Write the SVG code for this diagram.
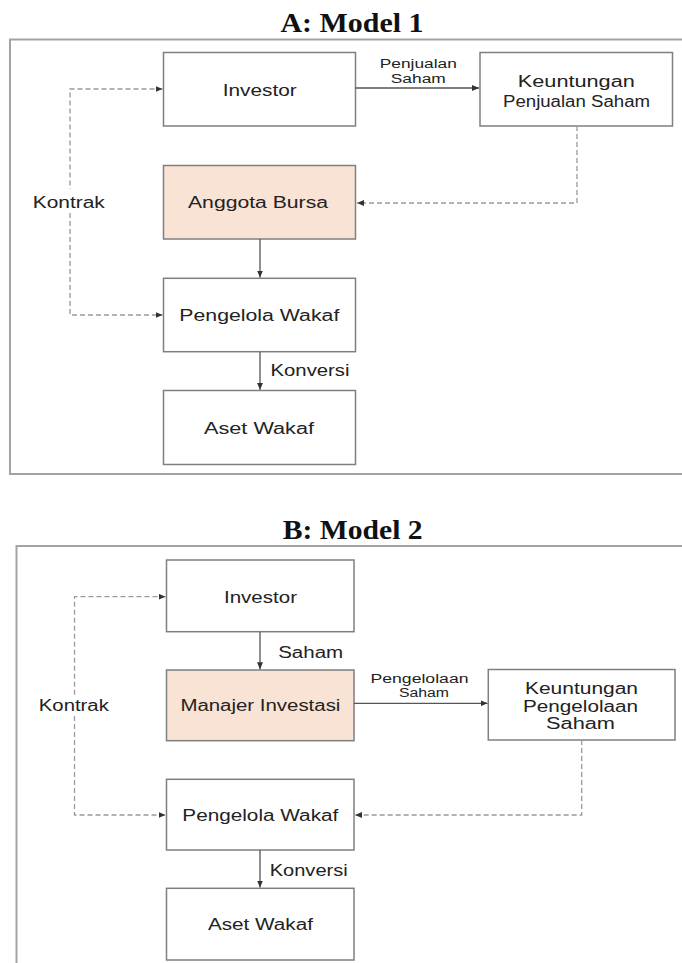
<svg xmlns="http://www.w3.org/2000/svg" width="682" height="963" viewBox="0 0 682 963">
  <style>
    .frame { fill: none; stroke: #a3a3a3; stroke-width: 2; }
    .title { font-family: "Liberation Serif", "DejaVu Serif", serif; font-weight: bold; font-size: 28px; fill: #111; text-anchor: middle; }
    .box { fill: #ffffff; stroke: #7f7f7f; stroke-width: 1.5; }
    .hl { fill: #f9e3d5; }
    .t { font-family: "Liberation Sans", Arial, sans-serif; font-size: 16px; fill: #222; text-anchor: middle; }
    .s { font-family: "Liberation Sans", Arial, sans-serif; font-size: 12.5px; fill: #222; text-anchor: middle; }
    .solid { fill: none; stroke: #555; stroke-width: 1.3; }
    .dash { fill: none; stroke: #9a9a9a; stroke-width: 1.3; stroke-dasharray: 5 3; }
  </style>
  <defs>
    <marker id="ah" markerUnits="userSpaceOnUse" markerWidth="7" markerHeight="6" refX="7" refY="3" orient="auto-start-reverse">
      <path d="M0,0 L7,3 L0,6 z" fill="#333"/>
    </marker>
  </defs>

  <rect width="682" height="963" fill="#ffffff"/>

  <!-- Panel A -->
  <text class="title" x="352" y="32" textLength="143" lengthAdjust="spacingAndGlyphs">A: Model 1</text>
  <rect class="frame" x="10" y="39.5" width="680" height="434.5"/>

  <g id="a-investor">
    <rect class="box" x="163.5" y="52.5" width="192" height="73.5"/>
    <text class="t" x="259.7" y="95.7" textLength="74" lengthAdjust="spacingAndGlyphs">Investor</text>
  </g>
  <g id="a-keuntungan">
    <rect class="box" x="480" y="52.5" width="192.5" height="73.5"/>
    <text class="t" x="576.3" y="86.7" textLength="117" lengthAdjust="spacingAndGlyphs">Keuntungan</text>
    <text class="t" x="576.5" y="107" textLength="147" lengthAdjust="spacingAndGlyphs">Penjualan Saham</text>
  </g>
  <g id="a-anggota">
    <rect class="box hl" x="163.5" y="165.5" width="192" height="73.5"/>
    <text class="t" x="258" y="208" textLength="140" lengthAdjust="spacingAndGlyphs">Anggota Bursa</text>
  </g>
  <g id="a-pengelola">
    <rect class="box" x="163.5" y="278.3" width="192" height="73.4"/>
    <text class="t" x="259.3" y="320.5" textLength="160" lengthAdjust="spacingAndGlyphs">Pengelola Wakaf</text>
  </g>
  <g id="a-aset">
    <rect class="box" x="163.5" y="390.5" width="192" height="74"/>
    <text class="t" x="259" y="433.5" textLength="110" lengthAdjust="spacingAndGlyphs">Aset Wakaf</text>
  </g>

  <g id="a-connectors">
    <path class="solid" d="M355.5,88 H479" marker-end="url(#ah)"/>
    <path class="dash" d="M577,126 V203 H357" marker-end="url(#ah)"/>
    <path class="solid" d="M260,239 V277.5" marker-end="url(#ah)"/>
    <path class="dash" d="M162.5,89 H70 V189" marker-start="url(#ah)"/>
    <path class="dash" d="M70,213 V315 H162.5" marker-end="url(#ah)"/>
    <path class="solid" d="M260,351.7 V389.8" marker-end="url(#ah)"/>
  </g>
  <g id="a-labels">
    <text class="s" x="418.3" y="68" textLength="77" lengthAdjust="spacingAndGlyphs">Penjualan</text>
    <text class="s" x="418.3" y="82.5" textLength="55" lengthAdjust="spacingAndGlyphs">Saham</text>
    <text class="t" x="68.8" y="207.5" textLength="72" lengthAdjust="spacingAndGlyphs">Kontrak</text>
    <text class="t" x="310" y="375.5" textLength="79" lengthAdjust="spacingAndGlyphs">Konversi</text>
  </g>

  <!-- Panel B -->
  <text class="title" x="352.7" y="539.3" textLength="140" lengthAdjust="spacingAndGlyphs">B: Model 2</text>
  <rect class="frame" x="16.5" y="546" width="680" height="430"/>

  <g id="b-investor">
    <rect class="box" x="166.5" y="560" width="187.5" height="71.7"/>
    <text class="t" x="260.5" y="602.5" textLength="73" lengthAdjust="spacingAndGlyphs">Investor</text>
  </g>
  <g id="b-manajer">
    <rect class="box hl" x="166.5" y="670" width="187.5" height="70.7"/>
    <text class="t" x="260.4" y="711" textLength="160" lengthAdjust="spacingAndGlyphs">Manajer Investasi</text>
  </g>
  <g id="b-keuntungan">
    <rect class="box" x="488.3" y="669.5" width="186.7" height="70.5"/>
    <text class="t" x="581.5" y="693.5" textLength="113" lengthAdjust="spacingAndGlyphs">Keuntungan</text>
    <text class="t" x="580.5" y="711.7" textLength="115" lengthAdjust="spacingAndGlyphs">Pengelolaan</text>
    <text class="t" x="580.5" y="728.5" textLength="69" lengthAdjust="spacingAndGlyphs">Saham</text>
  </g>
  <g id="b-pengelola">
    <rect class="box" x="166.5" y="779.3" width="187.5" height="70.7"/>
    <text class="t" x="260.3" y="820.5" textLength="156" lengthAdjust="spacingAndGlyphs">Pengelola Wakaf</text>
  </g>
  <g id="b-aset">
    <rect class="box" x="166.5" y="888.3" width="187.5" height="71.7"/>
    <text class="t" x="260.4" y="929.5" textLength="105" lengthAdjust="spacingAndGlyphs">Aset Wakaf</text>
  </g>

  <g id="b-connectors">
    <path class="solid" d="M260,631.7 V669.3" marker-end="url(#ah)"/>
    <path class="solid" d="M354,703.3 H487.5" marker-end="url(#ah)"/>
    <path class="dash" d="M581.7,740 V815 H355" marker-end="url(#ah)"/>
    <path class="dash" d="M165.5,596.7 H74.5 V696" marker-start="url(#ah)"/>
    <path class="dash" d="M74.5,716 V815 H165.5" marker-end="url(#ah)"/>
    <path class="solid" d="M260,850 V887.6" marker-end="url(#ah)"/>
  </g>
  <g id="b-labels">
    <text class="t" x="310.7" y="657.5" textLength="65" lengthAdjust="spacingAndGlyphs">Saham</text>
    <text class="s" x="419.5" y="682.5" textLength="98" lengthAdjust="spacingAndGlyphs">Pengelolaan</text>
    <text class="s" x="424" y="697" textLength="50" lengthAdjust="spacingAndGlyphs">Saham</text>
    <text class="t" x="73.8" y="711" textLength="70" lengthAdjust="spacingAndGlyphs">Kontrak</text>
    <text class="t" x="308.7" y="875.5" textLength="78" lengthAdjust="spacingAndGlyphs">Konversi</text>
  </g>
</svg>
